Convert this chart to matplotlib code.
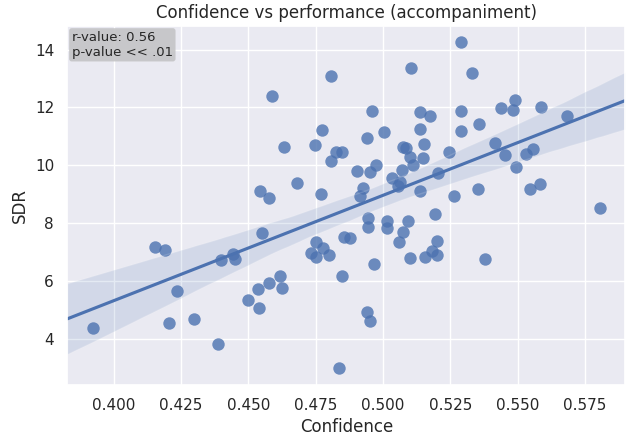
import matplotlib
matplotlib.use("Agg")
import matplotlib.pyplot as plt
import numpy as np
import seaborn as sns

confidence = [
    0.3922, 0.4153, 0.4190, 0.4235, 0.4205, 0.4299, 0.4388, 0.4399, 0.4444, 0.4451,
    0.4500, 0.4537, 0.4541, 0.4545, 0.4551, 0.4578, 0.4577, 0.4588, 0.4616, 0.4626,
    0.4634, 0.4679, 0.4749, 0.4827, 0.4848, 0.4805, 0.4905, 0.4951, 0.4769, 0.4925,
    0.4916, 0.4946, 0.4943, 0.4856, 0.4877, 0.4750, 0.4778, 0.4732, 0.4750, 0.4800,
    0.4846, 0.4939, 0.4951, 0.4836, 0.4966, 0.5101, 0.5157, 0.5182, 0.5200, 0.5380,
    0.4939, 0.5075, 0.5085, 0.5153, 0.5244, 0.5101, 0.5148, 0.5113, 0.4974, 0.5071,
    0.5035, 0.5063, 0.5057, 0.5205, 0.5137, 0.5264, 0.5352, 0.5194, 0.5016, 0.5014,
    0.5092, 0.5073, 0.5061, 0.5200, 0.5290, 0.5103, 0.5330, 0.4958, 0.5136, 0.5175,
    0.5290, 0.5358, 0.5003, 0.5138, 0.5291, 0.4805, 0.4772, 0.5437, 0.5489, 0.5481,
    0.5587, 0.5682, 0.5414, 0.5555, 0.5453, 0.5530, 0.5493, 0.5545, 0.5583, 0.5805,
]
sdr = [
    4.38, 7.17, 7.06, 5.66, 4.52, 4.66, 3.80, 6.72, 6.92, 6.75,
    5.33, 5.71, 5.07, 9.11, 7.66, 5.91, 8.88, 12.41, 6.15, 5.74,
    10.63, 9.39, 10.70, 10.47, 10.47, 10.13, 9.80, 9.76, 9.02, 9.22,
    8.95, 8.16, 7.86, 7.53, 7.47, 7.33, 7.13, 6.96, 6.83, 6.89,
    6.16, 4.92, 4.59, 2.97, 6.59, 6.79, 6.81, 7.02, 6.88, 6.75,
    10.94, 10.62, 10.60, 10.74, 10.45, 10.28, 10.25, 9.99, 10.02, 9.85,
    9.56, 9.42, 9.27, 9.74, 9.10, 8.94, 9.17, 8.30, 8.07, 7.82,
    8.07, 7.70, 7.35, 7.36, 14.25, 13.37, 13.18, 11.86, 11.83, 11.71,
    11.88, 11.44, 11.15, 11.25, 11.20, 13.09, 11.23, 11.97, 12.26, 11.90,
    12.01, 11.72, 10.77, 10.56, 10.36, 10.40, 9.94, 9.17, 9.34, 8.53,
]

sns.set_theme(style="darkgrid")

fig, ax = plt.subplots(figsize=(6.29, 4.36), dpi=100)
sns.regplot(x=np.array(confidence), y=np.array(sdr), ax=ax, truncate=False,
            scatter_kws={"s": 80, "linewidths": 0}, seed=0)
ax.set_title("Confidence vs performance (accompaniment)")
ax.set_xlabel("Confidence")
ax.set_ylabel("SDR")
ax.text(0.008, 0.987, "r-value: 0.56\np-value << .01", transform=ax.transAxes,
        ha="left", va="top", fontsize=9.5,
        bbox=dict(boxstyle="round,pad=0.2", facecolor="#c4c4c6", edgecolor="none", alpha=0.9))

fig.subplots_adjust(left=0.107, right=0.994, top=0.94, bottom=0.118)
plt.savefig("out.png")
